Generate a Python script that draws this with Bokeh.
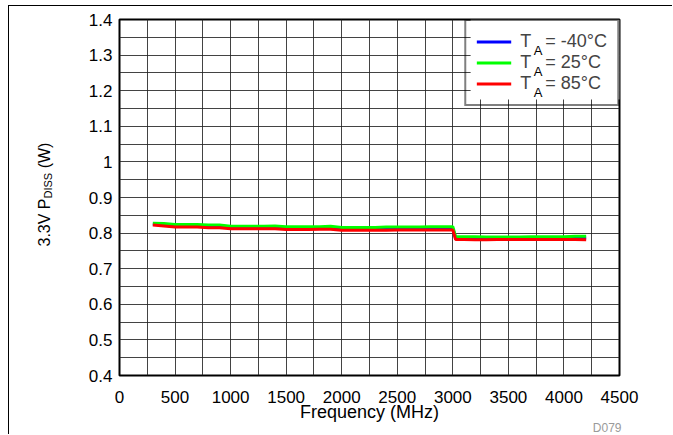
import math
from bokeh.plotting import figure
from bokeh.models import (Range1d, FixedTicker, Label, Legend, LegendItem, Title,
                          BoxAnnotation)
from bokeh.layouts import row
from bokeh.core.properties import value
from bokeh.embed import file_html
from bokeh.resources import INLINE

# ---------------- data ----------------
freq = [300, 400, 500, 600, 700, 800, 900, 1000, 1100, 1200, 1300, 1400,
        1500, 1600, 1700, 1800, 1900, 2000, 2100, 2200, 2300, 2400, 2500,
        2600, 2700, 2800, 2900, 3000, 3025, 3100, 3200, 3300, 3400, 3500,
        3600, 3700, 3800, 3900, 4000, 4100, 4200]
p_m40 = [0.825, 0.824, 0.821, 0.821, 0.821, 0.819, 0.819, 0.815, 0.815, 0.815,
         0.815, 0.815, 0.814, 0.814, 0.814, 0.814, 0.814, 0.812, 0.812, 0.812,
         0.812, 0.812, 0.813, 0.813, 0.813, 0.813, 0.813, 0.813, 0.786, 0.786,
         0.785, 0.785, 0.786, 0.786, 0.786, 0.786, 0.786, 0.786, 0.786, 0.786,
         0.786]
p_25 = [0.828, 0.827, 0.824, 0.824, 0.824, 0.823, 0.823, 0.819, 0.819, 0.819,
        0.819, 0.820, 0.818, 0.818, 0.818, 0.818, 0.819, 0.816, 0.816, 0.816,
        0.816, 0.817, 0.817, 0.817, 0.817, 0.818, 0.818, 0.818, 0.790, 0.790,
        0.790, 0.789, 0.789, 0.789, 0.789, 0.790, 0.790, 0.790, 0.790, 0.791,
        0.791]
p_85 = [0.823, 0.820, 0.817, 0.817, 0.817, 0.815, 0.815, 0.812, 0.812, 0.812,
        0.812, 0.812, 0.810, 0.810, 0.810, 0.811, 0.811, 0.808, 0.808, 0.808,
        0.808, 0.808, 0.809, 0.809, 0.809, 0.809, 0.809, 0.809, 0.782, 0.782,
        0.781, 0.781, 0.782, 0.782, 0.782, 0.782, 0.782, 0.782, 0.782, 0.782,
        0.781]
series_labels = ["-40°C", "25°C", "85°C"]
x_ticks = [0, 500, 1000, 1500, 2000, 2500, 3000, 3500, 4000, 4500]
y_ticks = [0.4, 0.5, 0.6, 0.7, 0.8, 0.9, 1, 1.1, 1.2, 1.3, 1.4]
x_grid = [0, 250, 500, 750, 1000, 1250, 1500, 1750, 2000, 2250, 2500, 2750,
          3000, 3250, 3500, 3750, 4000, 4250, 4500]
y_grid = [0.4, 0.45, 0.5, 0.55, 0.6, 0.65, 0.7, 0.75, 0.8, 0.85, 0.9, 0.95,
          1.0, 1.05, 1.1, 1.15, 1.2, 1.25, 1.3, 1.35, 1.4]

FONT = "Liberation Sans"
H = 428
YW = 60
BT, BB = 13, 59          # top / bottom borders shared by both panels
FH = H - BT - BB         # frame height (356 px)

# ---------------- main chart ----------------
p = figure(width=603, height=H, output_backend="svg", toolbar_location=None,
           x_range=Range1d(0, 4500), y_range=Range1d(0.4, 1.4),
           min_border_left=50, min_border_right=53, min_border_top=BT,
           min_border_bottom=BB)
p.background_fill_color = "white"
p.border_fill_color = "white"
p.outline_line_color = "black"
p.outline_line_width = 2

for ax in (p.xaxis[0], p.yaxis[0]):
    ax.axis_line_color = None
    ax.major_tick_line_color = None
    ax.minor_tick_line_color = None
    ax.major_tick_out = 0
    ax.major_tick_in = 0
    ax.major_label_text_font = FONT
    ax.major_label_text_font_size = "17px"
    ax.major_label_text_color = "black"
p.xaxis[0].ticker = FixedTicker(ticks=x_ticks)
p.yaxis[0].ticker = FixedTicker(ticks=y_ticks)
p.yaxis[0].major_label_overrides = {1: "1"}
p.xaxis[0].major_label_standoff = 15
p.yaxis[0].major_label_standoff = 7
p.xaxis[0].axis_label = "Frequency (MHz)"
p.xaxis[0].axis_label_text_font = FONT
p.xaxis[0].axis_label_text_font_size = "18px"
p.xaxis[0].axis_label_text_font_style = "normal"
p.xaxis[0].axis_label_text_color = "black"
p.xaxis[0].axis_label_standoff = -4

p.xgrid[0].ticker = FixedTicker(ticks=x_grid)
p.ygrid[0].ticker = FixedTicker(ticks=y_grid)
for g in (p.xgrid[0], p.ygrid[0]):
    g.grid_line_color = "#222222"
    g.grid_line_width = 1
    g.grid_line_alpha = 0.85

r1 = p.line(freq, p_m40, line_color="#0000FF", line_width=3)
r2 = p.line(freq, p_25, line_color="#00FF00", line_width=3)
r3 = p.line(freq, p_85, line_color="#FF0000", line_width=3)

# white backing for the legend (legend itself is transparent so the
# subscripts drawn below it stay visible)
p.add_layout(BoxAnnotation(left=3160, right=4500, bottom=1.175, top=1.4,
                           fill_color="white", fill_alpha=1, line_color=None))

# subscripts "A" of T_A in the legend
for i in range(3):
    p.add_layout(Label(x=414.3, y=FH - (49.5 - BT - 6) - 21 * i,
                       x_units="screen", y_units="screen",
                       text="A", text_font=FONT, text_font_size="13px",
                       text_baseline="alphabetic", text_align="left",
                       text_color="black"))

legend = Legend(items=[LegendItem(label="T\u2002 = " + s, renderers=[r])
                       for s, r in zip(series_labels, [r1, r2, r3])],
                location="top_right", margin=0, padding=10, spacing=0,
                glyph_width=35, glyph_height=21, label_height=21,
                label_width=86, label_standoff=9,
                label_text_font=FONT, label_text_font_size="18px",
                border_line_color="black", border_line_width=2,
                background_fill_alpha=0)
p.add_layout(legend)

# figure id, right aligned under the chart
p.add_layout(Title(text="D079", align="right", offset=-2, standoff=-11,
                   text_font=FONT, text_font_size="12px", text_font_style="normal",
                   text_color="#9a9a9a"), "below")

# ---------------- y axis title panel (with subscript) ----------------
# frame of this panel is aligned with the main frame: data y = px above frame bottom
yl = figure(width=YW, height=H, output_backend="svg", toolbar_location=None,
            x_range=Range1d(0, YW), y_range=Range1d(0, FH),
            x_axis_location=None, y_axis_location=None,
            min_border_left=0, min_border_right=0, min_border_top=BT,
            min_border_bottom=BB)
yl.outline_line_color = None
yl.xgrid.visible = False
yl.ygrid.visible = False
yl.background_fill_color = "white"
yl.border_fill_color = "white"

main_fs = 16
sub_fs = 11
base_x = 35
start_y = 129
w1 = 3.002 * main_fs
w2 = 2.334 * sub_fs
gap = 0.278 * main_fs
ang = math.pi / 2
yl.text(x=[base_x], y=[start_y], text=["3.3V P"], angle=ang,
        text_font=value(FONT), text_font_size=value(f"{main_fs}px"),
        text_baseline="alphabetic", text_align="left", text_color="black")
yl.text(x=[base_x + 3.5], y=[start_y + w1], text=["DISS"], angle=ang,
        text_font=value(FONT), text_font_size=value(f"{sub_fs}px"),
        text_baseline="alphabetic", text_align="left", text_color="black")
yl.text(x=[base_x], y=[start_y + w1 + w2 + gap], text=["(W)"], angle=ang,
        text_font=value(FONT), text_font_size=value(f"{main_fs}px"),
        text_baseline="alphabetic", text_align="left", text_color="black")

layout = row(yl, p, spacing=0,
             styles={"margin-left": "8px", "margin-top": "5px",
                     "border-top": "1px solid black", "border-left": "1px solid black"})

open("out.html", "w").write(file_html(layout, INLINE))
